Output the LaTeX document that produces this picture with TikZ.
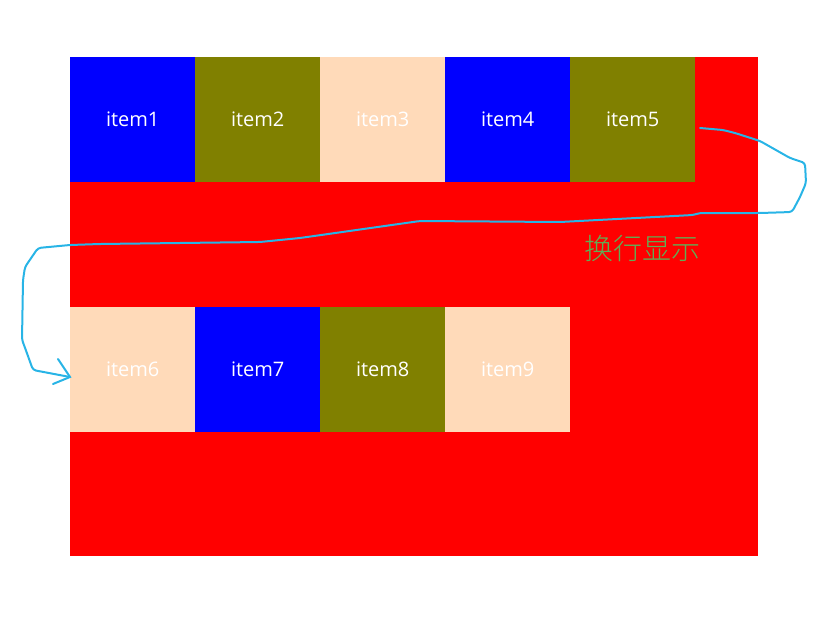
\documentclass[tikz,border=0pt]{standalone}
\usepackage{fontspec}
\setmainfont{Open Sans}
\newfontfamily\cjk{Noto Sans CJK SC Light}
\definecolor{olivec}{RGB}{128,128,0}
\definecolor{peach}{RGB}{255,218,185}
\definecolor{curvec}{RGB}{40,180,230}
\definecolor{txtgreen}{RGB}{95,175,85}
\tikzset{
  item/.style={minimum width=125pt,minimum height=125pt,inner sep=0pt,anchor=north west,text=white,font=\fontsize{20}{22}\selectfont},
}
\begin{document}
\begin{tikzpicture}[x=1pt,y=-1pt]
\useasboundingbox (0,0) rectangle (833,621);
\fill[red] (70,57) rectangle (758,556);
\node[item,fill=blue] (i1) at (70,57) {item1};
\node[item,fill=olivec] (i2) at (195,57) {item2};
\node[item,fill=peach] (i3) at (320,57) {item3};
\node[item,fill=blue] (i4) at (445,57) {item4};
\node[item,fill=olivec] (i5) at (570,57) {item5};
\node[item,fill=peach] (i6) at (70,307) {item6};
\node[item,fill=blue] (i7) at (195,307) {item7};
\node[item,fill=olivec] (i8) at (320,307) {item8};
\node[item,fill=peach] (i9) at (445,307) {item9};
\node[text=txtgreen,font=\cjk\fontsize{29}{32}\selectfont,inner sep=0pt] (lbl) at (642,248) {换行显示};
\coordinate (s) at (700,128);
\coordinate (e) at (70,377);
\draw[curvec,line width=2pt,line join=round,line cap=round,rounded corners=3pt]
  (s) -- (723,130) -- (735,133) -- (760,141) -- (790,158) -- (805,163) -- (806,183) -- (800,197) -- (792,212)
  -- (760,213) -- (700,213) -- (693,215) -- (560,222) -- (420,221) -- (300,238) -- (260,242) -- (100,244) -- (70,245)
  -- (38,248) -- (25,267) -- (23,280) -- (22,340) -- (24,345) -- (33,370) -- (e);
\draw[curvec,line width=2pt,line cap=round] (58,359) -- (e) -- (53,384);
\end{tikzpicture}
\end{document}
